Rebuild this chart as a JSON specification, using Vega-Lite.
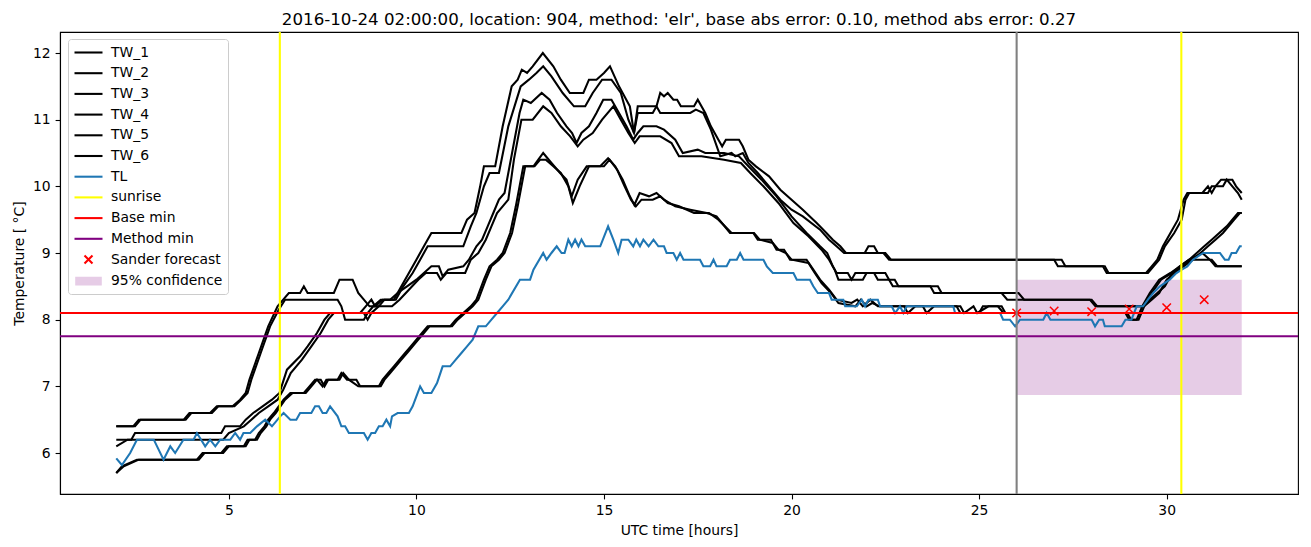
{
"$schema": "https://vega.github.io/schema/vega-lite/v6.json",
"width": 1238, "height": 462,
"autosize": {"type": "none"},
"padding": {"left": 60, "top": 32, "right": 13, "bottom": 53},
"background": "white",
"title": {"text": "2016-10-24 02:00:00, location: 904, method: 'elr', base abs error: 0.10, method abs error: 0.27", "font": "DejaVu Sans", "fontSize": 16.67, "fontWeight": "normal", "color": "black", "anchor": "middle", "frame": "group", "baseline": "bottom", "offset": 4, "dy": 18.5},
"config": {
  "font": "DejaVu Sans",
  "view": {"stroke": "black", "strokeWidth": 1.1},
  "axis": {"grid": false, "domainColor": "black", "domainWidth": 1.1, "tickColor": "black", "tickWidth": 1.1, "tickSize": 4.9, "labelFont": "DejaVu Sans", "labelFontSize": 13.9, "labelColor": "black", "labelPadding": 4.9, "titleFont": "DejaVu Sans", "titleFontSize": 13.9, "titleFontWeight": "normal", "titleColor": "black"},
  "legend": {"orient": "none", "legendX": 8, "legendY": 7, "fillColor": "white", "strokeColor": "#cccccc", "cornerRadius": 3, "padding": 5, "labelFont": "DejaVu Sans", "labelFontSize": 13.9, "labelColor": "black", "labelBaseline": "middle", "symbolSize": 196, "symbolOffset": 7, "labelOffset": 14, "rowPadding": 4.7, "symbolStrokeWidth": 2.08, "symbolOpacity": 1}
},
"datasets": {
"lines": [
{"series":"TW_1","t":2.0,"v":6.4},{"series":"TW_1","t":2.45,"v":6.4},{"series":"TW_1","t":2.6,"v":6.5},{"series":"TW_1","t":3.8,"v":6.5},{"series":"TW_1","t":3.95,"v":6.6},{"series":"TW_1","t":4.5,"v":6.6},{"series":"TW_1","t":4.68,"v":6.7},{"series":"TW_1","t":5.1,"v":6.7},{"series":"TW_1","t":5.3,"v":6.8},{"series":"TW_1","t":5.45,"v":6.9},{"series":"TW_1","t":5.55,"v":7.1},{"series":"TW_1","t":5.8,"v":7.5},{"series":"TW_1","t":6.05,"v":7.9},{"series":"TW_1","t":6.3,"v":8.2},{"series":"TW_1","t":6.45,"v":8.3},{"series":"TW_1","t":6.6,"v":8.4},{"series":"TW_1","t":6.9,"v":8.4},{"series":"TW_1","t":7.0,"v":8.5},{"series":"TW_1","t":7.1,"v":8.4},{"series":"TW_1","t":7.8,"v":8.4},{"series":"TW_1","t":7.95,"v":8.6},{"series":"TW_1","t":8.3,"v":8.6},{"series":"TW_1","t":8.45,"v":8.4},{"series":"TW_1","t":8.6,"v":8.3},{"series":"TW_1","t":8.75,"v":8.2},{"series":"TW_1","t":9.0,"v":8.2},{"series":"TW_1","t":9.15,"v":8.3},{"series":"TW_1","t":9.4,"v":8.3},{"series":"TW_1","t":9.6,"v":8.5},{"series":"TW_1","t":9.8,"v":8.7},{"series":"TW_1","t":10.0,"v":8.9},{"series":"TW_1","t":10.2,"v":9.1},{"series":"TW_1","t":10.4,"v":9.3},{"series":"TW_1","t":11.2,"v":9.3},{"series":"TW_1","t":11.35,"v":9.5},{"series":"TW_1","t":11.55,"v":9.6},{"series":"TW_1","t":11.7,"v":10.0},{"series":"TW_1","t":11.8,"v":10.3},{"series":"TW_1","t":12.1,"v":10.3},{"series":"TW_1","t":12.3,"v":10.9},{"series":"TW_1","t":12.54,"v":11.5},{"series":"TW_1","t":12.7,"v":11.6},{"series":"TW_1","t":12.81,"v":11.75},{"series":"TW_1","t":12.95,"v":11.7},{"series":"TW_1","t":13.1,"v":11.8},{"series":"TW_1","t":13.37,"v":12.0},{"series":"TW_1","t":13.65,"v":11.8},{"series":"TW_1","t":13.85,"v":11.6},{"series":"TW_1","t":14.09,"v":11.4},{"series":"TW_1","t":14.45,"v":11.4},{"series":"TW_1","t":14.6,"v":11.6},{"series":"TW_1","t":14.8,"v":11.6},{"series":"TW_1","t":15.0,"v":11.7},{"series":"TW_1","t":15.16,"v":11.8},{"series":"TW_1","t":15.4,"v":11.5},{"series":"TW_1","t":15.69,"v":11.2},{"series":"TW_1","t":15.8,"v":10.8},{"series":"TW_1","t":15.9,"v":11.2},{"series":"TW_1","t":16.4,"v":11.2},{"series":"TW_1","t":16.5,"v":11.4},{"series":"TW_1","t":16.6,"v":11.35},{"series":"TW_1","t":16.7,"v":11.4},{"series":"TW_1","t":16.85,"v":11.3},{"series":"TW_1","t":16.95,"v":11.3},{"series":"TW_1","t":17.05,"v":11.2},{"series":"TW_1","t":17.4,"v":11.2},{"series":"TW_1","t":17.5,"v":11.3},{"series":"TW_1","t":17.7,"v":11.1},{"series":"TW_1","t":17.85,"v":10.9},{"series":"TW_1","t":18.05,"v":10.7},{"series":"TW_1","t":18.15,"v":10.6},{"series":"TW_1","t":18.25,"v":10.7},{"series":"TW_1","t":18.6,"v":10.7},{"series":"TW_1","t":18.7,"v":10.6},{"series":"TW_1","t":18.85,"v":10.4},{"series":"TW_1","t":19.05,"v":10.3},{"series":"TW_1","t":19.4,"v":10.15},{"series":"TW_1","t":19.7,"v":9.95},{"series":"TW_1","t":20.0,"v":9.8},{"series":"TW_1","t":20.3,"v":9.65},{"series":"TW_1","t":20.67,"v":9.45},{"series":"TW_1","t":20.93,"v":9.3},{"series":"TW_1","t":21.1,"v":9.2},{"series":"TW_1","t":21.3,"v":9.1},{"series":"TW_1","t":21.45,"v":9.0},{"series":"TW_1","t":21.95,"v":9.0},{"series":"TW_1","t":22.05,"v":9.1},{"series":"TW_1","t":22.2,"v":9.1},{"series":"TW_1","t":22.3,"v":9.0},{"series":"TW_1","t":22.5,"v":9.0},{"series":"TW_1","t":22.65,"v":8.9},{"series":"TW_1","t":27.0,"v":8.9},{"series":"TW_1","t":27.1,"v":8.8},{"series":"TW_1","t":28.3,"v":8.8},{"series":"TW_1","t":28.4,"v":8.7},{"series":"TW_1","t":29.45,"v":8.7},{"series":"TW_1","t":29.6,"v":8.8},{"series":"TW_1","t":29.75,"v":8.9},{"series":"TW_1","t":29.9,"v":9.1},{"series":"TW_1","t":30.1,"v":9.3},{"series":"TW_1","t":30.3,"v":9.5},{"series":"TW_1","t":30.45,"v":9.8},{"series":"TW_1","t":30.55,"v":9.9},{"series":"TW_1","t":30.95,"v":9.9},{"series":"TW_1","t":31.1,"v":10.0},{"series":"TW_1","t":31.2,"v":9.9},{"series":"TW_1","t":31.3,"v":10.0},{"series":"TW_1","t":31.45,"v":10.1},{"series":"TW_1","t":31.75,"v":10.1},{"series":"TW_1","t":31.85,"v":10.0},{"series":"TW_1","t":32.0,"v":9.9},
{"series":"TW_2","t":2.0,"v":6.4},{"series":"TW_2","t":2.5,"v":6.4},{"series":"TW_2","t":2.65,"v":6.5},{"series":"TW_2","t":3.85,"v":6.5},{"series":"TW_2","t":4.0,"v":6.6},{"series":"TW_2","t":4.55,"v":6.6},{"series":"TW_2","t":4.72,"v":6.7},{"series":"TW_2","t":5.15,"v":6.7},{"series":"TW_2","t":5.33,"v":6.8},{"series":"TW_2","t":5.5,"v":6.9},{"series":"TW_2","t":5.6,"v":7.1},{"series":"TW_2","t":5.85,"v":7.5},{"series":"TW_2","t":6.1,"v":7.9},{"series":"TW_2","t":6.33,"v":8.15},{"series":"TW_2","t":6.5,"v":8.3},{"series":"TW_2","t":7.9,"v":8.3},{"series":"TW_2","t":8.0,"v":8.2},{"series":"TW_2","t":8.1,"v":8.0},{"series":"TW_2","t":8.6,"v":8.0},{"series":"TW_2","t":8.7,"v":8.1},{"series":"TW_2","t":8.85,"v":8.2},{"series":"TW_2","t":9.05,"v":8.3},{"series":"TW_2","t":9.45,"v":8.3},{"series":"TW_2","t":9.65,"v":8.5},{"series":"TW_2","t":9.9,"v":8.7},{"series":"TW_2","t":10.1,"v":8.9},{"series":"TW_2","t":10.3,"v":9.1},{"series":"TW_2","t":11.25,"v":9.1},{"series":"TW_2","t":11.45,"v":9.4},{"series":"TW_2","t":11.6,"v":9.6},{"series":"TW_2","t":11.8,"v":10.0},{"series":"TW_2","t":11.95,"v":10.2},{"series":"TW_2","t":12.2,"v":10.2},{"series":"TW_2","t":12.45,"v":10.9},{"series":"TW_2","t":12.78,"v":11.5},{"series":"TW_2","t":13.0,"v":11.6},{"series":"TW_2","t":13.2,"v":11.7},{"series":"TW_2","t":13.38,"v":11.8},{"series":"TW_2","t":13.6,"v":11.65},{"series":"TW_2","t":13.9,"v":11.4},{"series":"TW_2","t":14.2,"v":11.2},{"series":"TW_2","t":14.5,"v":11.2},{"series":"TW_2","t":14.7,"v":11.4},{"series":"TW_2","t":14.95,"v":11.6},{"series":"TW_2","t":15.2,"v":11.6},{"series":"TW_2","t":15.45,"v":11.4},{"series":"TW_2","t":15.65,"v":11.0},{"series":"TW_2","t":15.8,"v":10.8},{"series":"TW_2","t":15.9,"v":11.1},{"series":"TW_2","t":16.3,"v":11.1},{"series":"TW_2","t":16.4,"v":11.2},{"series":"TW_2","t":16.5,"v":11.1},{"series":"TW_2","t":17.3,"v":11.1},{"series":"TW_2","t":17.45,"v":11.15},{"series":"TW_2","t":17.65,"v":11.1},{"series":"TW_2","t":17.85,"v":10.85},{"series":"TW_2","t":18.1,"v":10.45},{"series":"TW_2","t":18.4,"v":10.5},{"series":"TW_2","t":18.5,"v":10.45},{"series":"TW_2","t":18.7,"v":10.5},{"series":"TW_2","t":18.85,"v":10.35},{"series":"TW_2","t":19.1,"v":10.2},{"series":"TW_2","t":19.4,"v":10.0},{"series":"TW_2","t":19.7,"v":9.8},{"series":"TW_2","t":20.0,"v":9.65},{"series":"TW_2","t":20.3,"v":9.55},{"series":"TW_2","t":20.76,"v":9.35},{"series":"TW_2","t":21.0,"v":9.2},{"series":"TW_2","t":21.2,"v":9.1},{"series":"TW_2","t":21.4,"v":9.0},{"series":"TW_2","t":22.45,"v":9.0},{"series":"TW_2","t":22.6,"v":8.9},{"series":"TW_2","t":27.2,"v":8.9},{"series":"TW_2","t":27.3,"v":8.8},{"series":"TW_2","t":28.35,"v":8.8},{"series":"TW_2","t":28.45,"v":8.7},{"series":"TW_2","t":29.5,"v":8.7},{"series":"TW_2","t":29.65,"v":8.8},{"series":"TW_2","t":29.8,"v":8.9},{"series":"TW_2","t":29.95,"v":9.1},{"series":"TW_2","t":30.2,"v":9.3},{"series":"TW_2","t":30.4,"v":9.5},{"series":"TW_2","t":30.5,"v":9.8},{"series":"TW_2","t":30.6,"v":9.9},{"series":"TW_2","t":31.1,"v":9.9},{"series":"TW_2","t":31.2,"v":10.0},{"series":"TW_2","t":31.5,"v":10.0},{"series":"TW_2","t":31.6,"v":10.1},{"series":"TW_2","t":31.75,"v":10.0},{"series":"TW_2","t":31.9,"v":9.9},{"series":"TW_2","t":32.0,"v":9.8},
{"series":"TW_3","t":2.0,"v":6.2},{"series":"TW_3","t":2.4,"v":6.2},{"series":"TW_3","t":2.5,"v":6.3},{"series":"TW_3","t":4.8,"v":6.3},{"series":"TW_3","t":4.9,"v":6.4},{"series":"TW_3","t":5.3,"v":6.4},{"series":"TW_3","t":5.45,"v":6.5},{"series":"TW_3","t":5.65,"v":6.6},{"series":"TW_3","t":5.9,"v":6.7},{"series":"TW_3","t":6.15,"v":6.8},{"series":"TW_3","t":6.35,"v":6.9},{"series":"TW_3","t":6.55,"v":7.25},{"series":"TW_3","t":6.9,"v":7.45},{"series":"TW_3","t":7.1,"v":7.6},{"series":"TW_3","t":7.35,"v":7.8},{"series":"TW_3","t":7.55,"v":8.0},{"series":"TW_3","t":7.7,"v":8.1},{"series":"TW_3","t":8.5,"v":8.1},{"series":"TW_3","t":8.65,"v":8.2},{"series":"TW_3","t":8.8,"v":8.3},{"series":"TW_3","t":8.9,"v":8.2},{"series":"TW_3","t":9.1,"v":8.3},{"series":"TW_3","t":9.3,"v":8.3},{"series":"TW_3","t":9.5,"v":8.4},{"series":"TW_3","t":9.75,"v":8.5},{"series":"TW_3","t":10.0,"v":8.6},{"series":"TW_3","t":10.2,"v":8.7},{"series":"TW_3","t":10.4,"v":8.8},{"series":"TW_3","t":10.6,"v":8.8},{"series":"TW_3","t":10.7,"v":8.65},{"series":"TW_3","t":10.85,"v":8.75},{"series":"TW_3","t":11.25,"v":8.8},{"series":"TW_3","t":11.4,"v":8.9},{"series":"TW_3","t":11.6,"v":9.1},{"series":"TW_3","t":11.75,"v":9.2},{"series":"TW_3","t":11.9,"v":9.4},{"series":"TW_3","t":12.05,"v":9.6},{"series":"TW_3","t":12.2,"v":9.8},{"series":"TW_3","t":12.35,"v":9.9},{"series":"TW_3","t":12.55,"v":10.5},{"series":"TW_3","t":12.75,"v":11.1},{"series":"TW_3","t":12.85,"v":11.3},{"series":"TW_3","t":13.05,"v":11.25},{"series":"TW_3","t":13.34,"v":11.4},{"series":"TW_3","t":13.55,"v":11.3},{"series":"TW_3","t":13.75,"v":11.1},{"series":"TW_3","t":14.0,"v":10.9},{"series":"TW_3","t":14.15,"v":10.8},{"series":"TW_3","t":14.27,"v":10.65},{"series":"TW_3","t":14.4,"v":10.8},{"series":"TW_3","t":14.6,"v":10.9},{"series":"TW_3","t":14.8,"v":11.1},{"series":"TW_3","t":14.98,"v":11.3},{"series":"TW_3","t":15.2,"v":11.3},{"series":"TW_3","t":15.4,"v":11.1},{"series":"TW_3","t":15.6,"v":10.9},{"series":"TW_3","t":15.78,"v":10.7},{"series":"TW_3","t":15.9,"v":10.8},{"series":"TW_3","t":16.05,"v":10.9},{"series":"TW_3","t":16.4,"v":10.9},{"series":"TW_3","t":16.6,"v":10.85},{"series":"TW_3","t":16.9,"v":10.7},{"series":"TW_3","t":17.1,"v":10.5},{"series":"TW_3","t":17.5,"v":10.55},{"series":"TW_3","t":17.7,"v":10.5},{"series":"TW_3","t":18.2,"v":10.5},{"series":"TW_3","t":18.6,"v":10.45},{"series":"TW_3","t":18.85,"v":10.3},{"series":"TW_3","t":19.2,"v":10.1},{"series":"TW_3","t":19.6,"v":9.85},{"series":"TW_3","t":20.0,"v":9.55},{"series":"TW_3","t":20.4,"v":9.3},{"series":"TW_3","t":20.76,"v":9.1},{"series":"TW_3","t":20.95,"v":9.0},{"series":"TW_3","t":21.1,"v":8.8},{"series":"TW_3","t":21.2,"v":8.7},{"series":"TW_3","t":21.5,"v":8.7},{"series":"TW_3","t":21.6,"v":8.6},{"series":"TW_3","t":21.7,"v":8.7},{"series":"TW_3","t":22.5,"v":8.7},{"series":"TW_3","t":22.6,"v":8.6},{"series":"TW_3","t":22.7,"v":8.5},{"series":"TW_3","t":23.7,"v":8.5},{"series":"TW_3","t":23.8,"v":8.4},{"series":"TW_3","t":25.6,"v":8.4},{"series":"TW_3","t":25.75,"v":8.3},{"series":"TW_3","t":27.95,"v":8.3},{"series":"TW_3","t":28.1,"v":8.2},{"series":"TW_3","t":29.35,"v":8.2},{"series":"TW_3","t":29.55,"v":8.3},{"series":"TW_3","t":29.75,"v":8.4},{"series":"TW_3","t":29.95,"v":8.5},{"series":"TW_3","t":30.15,"v":8.7},{"series":"TW_3","t":30.35,"v":8.8},{"series":"TW_3","t":30.6,"v":8.9},{"series":"TW_3","t":30.8,"v":9.0},{"series":"TW_3","t":31.0,"v":9.1},{"series":"TW_3","t":31.2,"v":9.2},{"series":"TW_3","t":31.4,"v":9.3},{"series":"TW_3","t":31.6,"v":9.4},{"series":"TW_3","t":31.75,"v":9.5},{"series":"TW_3","t":31.9,"v":9.6},{"series":"TW_3","t":32.0,"v":9.6},
{"series":"TW_4","t":2.0,"v":6.1},{"series":"TW_4","t":2.3,"v":6.2},{"series":"TW_4","t":4.85,"v":6.2},{"series":"TW_4","t":5.0,"v":6.3},{"series":"TW_4","t":5.4,"v":6.4},{"series":"TW_4","t":5.6,"v":6.5},{"series":"TW_4","t":5.8,"v":6.6},{"series":"TW_4","t":6.05,"v":6.7},{"series":"TW_4","t":6.3,"v":6.8},{"series":"TW_4","t":6.45,"v":6.95},{"series":"TW_4","t":6.65,"v":7.2},{"series":"TW_4","t":6.95,"v":7.4},{"series":"TW_4","t":7.2,"v":7.6},{"series":"TW_4","t":7.45,"v":7.8},{"series":"TW_4","t":7.65,"v":8.0},{"series":"TW_4","t":7.8,"v":8.1},{"series":"TW_4","t":8.6,"v":8.1},{"series":"TW_4","t":8.7,"v":8.0},{"series":"TW_4","t":8.8,"v":8.1},{"series":"TW_4","t":9.0,"v":8.2},{"series":"TW_4","t":9.35,"v":8.2},{"series":"TW_4","t":9.55,"v":8.3},{"series":"TW_4","t":9.8,"v":8.45},{"series":"TW_4","t":10.05,"v":8.6},{"series":"TW_4","t":10.25,"v":8.7},{"series":"TW_4","t":10.55,"v":8.7},{"series":"TW_4","t":10.65,"v":8.6},{"series":"TW_4","t":10.8,"v":8.7},{"series":"TW_4","t":11.3,"v":8.7},{"series":"TW_4","t":11.45,"v":8.9},{"series":"TW_4","t":11.65,"v":9.0},{"series":"TW_4","t":11.85,"v":9.2},{"series":"TW_4","t":12.0,"v":9.4},{"series":"TW_4","t":12.15,"v":9.6},{"series":"TW_4","t":12.3,"v":9.7},{"series":"TW_4","t":12.45,"v":9.8},{"series":"TW_4","t":12.6,"v":10.4},{"series":"TW_4","t":12.8,"v":11.0},{"series":"TW_4","t":13.1,"v":11.0},{"series":"TW_4","t":13.38,"v":11.2},{"series":"TW_4","t":13.6,"v":11.1},{"series":"TW_4","t":13.85,"v":10.9},{"series":"TW_4","t":14.1,"v":10.75},{"series":"TW_4","t":14.3,"v":10.6},{"series":"TW_4","t":14.45,"v":10.7},{"series":"TW_4","t":14.7,"v":10.8},{"series":"TW_4","t":14.95,"v":11.0},{"series":"TW_4","t":15.25,"v":11.2},{"series":"TW_4","t":15.45,"v":11.0},{"series":"TW_4","t":15.65,"v":10.8},{"series":"TW_4","t":15.82,"v":10.65},{"series":"TW_4","t":15.95,"v":10.75},{"series":"TW_4","t":16.5,"v":10.75},{"series":"TW_4","t":16.8,"v":10.65},{"series":"TW_4","t":17.0,"v":10.45},{"series":"TW_4","t":17.6,"v":10.45},{"series":"TW_4","t":18.2,"v":10.4},{"series":"TW_4","t":18.65,"v":10.35},{"series":"TW_4","t":18.9,"v":10.2},{"series":"TW_4","t":19.25,"v":10.0},{"series":"TW_4","t":19.65,"v":9.75},{"series":"TW_4","t":20.05,"v":9.45},{"series":"TW_4","t":20.45,"v":9.25},{"series":"TW_4","t":20.8,"v":9.05},{"series":"TW_4","t":21.0,"v":8.9},{"series":"TW_4","t":21.15,"v":8.75},{"series":"TW_4","t":21.25,"v":8.6},{"series":"TW_4","t":21.9,"v":8.6},{"series":"TW_4","t":22.0,"v":8.7},{"series":"TW_4","t":22.2,"v":8.7},{"series":"TW_4","t":22.3,"v":8.6},{"series":"TW_4","t":22.75,"v":8.6},{"series":"TW_4","t":22.85,"v":8.5},{"series":"TW_4","t":23.9,"v":8.5},{"series":"TW_4","t":24.0,"v":8.4},{"series":"TW_4","t":26.05,"v":8.4},{"series":"TW_4","t":26.2,"v":8.3},{"series":"TW_4","t":28.0,"v":8.3},{"series":"TW_4","t":28.15,"v":8.2},{"series":"TW_4","t":29.4,"v":8.2},{"series":"TW_4","t":29.6,"v":8.3},{"series":"TW_4","t":29.8,"v":8.4},{"series":"TW_4","t":30.0,"v":8.6},{"series":"TW_4","t":30.2,"v":8.7},{"series":"TW_4","t":30.45,"v":8.8},{"series":"TW_4","t":30.7,"v":8.9},{"series":"TW_4","t":30.9,"v":9.0},{"series":"TW_4","t":31.1,"v":9.1},{"series":"TW_4","t":31.3,"v":9.2},{"series":"TW_4","t":31.5,"v":9.3},{"series":"TW_4","t":31.65,"v":9.4},{"series":"TW_4","t":31.8,"v":9.5},{"series":"TW_4","t":31.95,"v":9.6},{"series":"TW_4","t":32.0,"v":9.6},
{"series":"TW_5","t":2.0,"v":5.7},{"series":"TW_5","t":2.15,"v":5.8},{"series":"TW_5","t":2.55,"v":5.9},{"series":"TW_5","t":4.15,"v":5.9},{"series":"TW_5","t":4.3,"v":6.0},{"series":"TW_5","t":4.8,"v":6.0},{"series":"TW_5","t":4.95,"v":6.1},{"series":"TW_5","t":5.4,"v":6.1},{"series":"TW_5","t":5.5,"v":6.2},{"series":"TW_5","t":5.7,"v":6.2},{"series":"TW_5","t":5.8,"v":6.3},{"series":"TW_5","t":5.95,"v":6.4},{"series":"TW_5","t":6.05,"v":6.5},{"series":"TW_5","t":6.2,"v":6.6},{"series":"TW_5","t":6.46,"v":6.8},{"series":"TW_5","t":6.64,"v":6.9},{"series":"TW_5","t":7.0,"v":6.9},{"series":"TW_5","t":7.15,"v":7.0},{"series":"TW_5","t":7.3,"v":7.1},{"series":"TW_5","t":7.45,"v":7.1},{"series":"TW_5","t":7.55,"v":7.0},{"series":"TW_5","t":7.65,"v":7.1},{"series":"TW_5","t":7.9,"v":7.1},{"series":"TW_5","t":8.0,"v":7.2},{"series":"TW_5","t":8.15,"v":7.1},{"series":"TW_5","t":8.4,"v":7.1},{"series":"TW_5","t":8.5,"v":7.0},{"series":"TW_5","t":9.0,"v":7.0},{"series":"TW_5","t":9.1,"v":7.1},{"series":"TW_5","t":9.25,"v":7.2},{"series":"TW_5","t":9.4,"v":7.3},{"series":"TW_5","t":9.55,"v":7.4},{"series":"TW_5","t":9.7,"v":7.5},{"series":"TW_5","t":9.85,"v":7.6},{"series":"TW_5","t":10.0,"v":7.7},{"series":"TW_5","t":10.15,"v":7.8},{"series":"TW_5","t":10.3,"v":7.9},{"series":"TW_5","t":10.9,"v":7.9},{"series":"TW_5","t":11.05,"v":8.0},{"series":"TW_5","t":11.25,"v":8.1},{"series":"TW_5","t":11.45,"v":8.2},{"series":"TW_5","t":11.6,"v":8.3},{"series":"TW_5","t":11.8,"v":8.6},{"series":"TW_5","t":11.95,"v":8.8},{"series":"TW_5","t":12.15,"v":8.9},{"series":"TW_5","t":12.3,"v":9.0},{"series":"TW_5","t":12.5,"v":9.3},{"series":"TW_5","t":12.65,"v":9.7},{"series":"TW_5","t":12.85,"v":10.3},{"series":"TW_5","t":13.12,"v":10.3},{"series":"TW_5","t":13.25,"v":10.4},{"series":"TW_5","t":13.38,"v":10.5},{"series":"TW_5","t":13.6,"v":10.35},{"series":"TW_5","t":13.83,"v":10.2},{"series":"TW_5","t":14.0,"v":10.1},{"series":"TW_5","t":14.14,"v":9.85},{"series":"TW_5","t":14.3,"v":10.1},{"series":"TW_5","t":14.54,"v":10.3},{"series":"TW_5","t":14.9,"v":10.3},{"series":"TW_5","t":15.11,"v":10.42},{"series":"TW_5","t":15.3,"v":10.3},{"series":"TW_5","t":15.5,"v":10.1},{"series":"TW_5","t":15.69,"v":9.85},{"series":"TW_5","t":15.81,"v":9.72},{"series":"TW_5","t":15.95,"v":9.9},{"series":"TW_5","t":16.2,"v":9.85},{"series":"TW_5","t":16.4,"v":9.9},{"series":"TW_5","t":16.6,"v":9.8},{"series":"TW_5","t":16.9,"v":9.7},{"series":"TW_5","t":17.3,"v":9.65},{"series":"TW_5","t":17.74,"v":9.6},{"series":"TW_5","t":18.0,"v":9.55},{"series":"TW_5","t":18.36,"v":9.3},{"series":"TW_5","t":18.98,"v":9.3},{"series":"TW_5","t":19.1,"v":9.2},{"series":"TW_5","t":19.45,"v":9.2},{"series":"TW_5","t":19.6,"v":9.05},{"series":"TW_5","t":19.8,"v":9.05},{"series":"TW_5","t":19.96,"v":8.9},{"series":"TW_5","t":20.4,"v":8.9},{"series":"TW_5","t":20.58,"v":8.75},{"series":"TW_5","t":20.76,"v":8.6},{"series":"TW_5","t":21.0,"v":8.45},{"series":"TW_5","t":21.2,"v":8.3},{"series":"TW_5","t":21.6,"v":8.25},{"series":"TW_5","t":21.75,"v":8.3},{"series":"TW_5","t":21.9,"v":8.2},{"series":"TW_5","t":22.1,"v":8.3},{"series":"TW_5","t":22.3,"v":8.2},{"series":"TW_5","t":23.0,"v":8.2},{"series":"TW_5","t":23.1,"v":8.1},{"series":"TW_5","t":23.3,"v":8.2},{"series":"TW_5","t":24.5,"v":8.2},{"series":"TW_5","t":24.6,"v":8.1},{"series":"TW_5","t":24.85,"v":8.2},{"series":"TW_5","t":24.95,"v":8.1},{"series":"TW_5","t":25.25,"v":8.2},{"series":"TW_5","t":25.6,"v":8.2},{"series":"TW_5","t":25.7,"v":8.1},{"series":"TW_5","t":28.9,"v":8.1},{"series":"TW_5","t":29.0,"v":8.0},{"series":"TW_5","t":29.2,"v":8.0},{"series":"TW_5","t":29.35,"v":8.2},{"series":"TW_5","t":29.55,"v":8.4},{"series":"TW_5","t":29.8,"v":8.6},{"series":"TW_5","t":30.1,"v":8.7},{"series":"TW_5","t":30.35,"v":8.8},{"series":"TW_5","t":30.6,"v":8.9},{"series":"TW_5","t":30.95,"v":9.0},{"series":"TW_5","t":31.15,"v":8.9},{"series":"TW_5","t":31.3,"v":8.8},{"series":"TW_5","t":32.0,"v":8.8},
{"series":"TW_6","t":2.0,"v":5.7},{"series":"TW_6","t":2.2,"v":5.8},{"series":"TW_6","t":2.6,"v":5.9},{"series":"TW_6","t":4.2,"v":5.9},{"series":"TW_6","t":4.35,"v":6.0},{"series":"TW_6","t":4.85,"v":6.0},{"series":"TW_6","t":5.0,"v":6.1},{"series":"TW_6","t":5.45,"v":6.1},{"series":"TW_6","t":5.55,"v":6.2},{"series":"TW_6","t":5.75,"v":6.2},{"series":"TW_6","t":5.85,"v":6.3},{"series":"TW_6","t":6.0,"v":6.4},{"series":"TW_6","t":6.1,"v":6.5},{"series":"TW_6","t":6.25,"v":6.6},{"series":"TW_6","t":6.5,"v":6.8},{"series":"TW_6","t":6.7,"v":6.9},{"series":"TW_6","t":7.05,"v":6.9},{"series":"TW_6","t":7.2,"v":7.0},{"series":"TW_6","t":7.35,"v":7.1},{"series":"TW_6","t":7.5,"v":7.0},{"series":"TW_6","t":7.6,"v":7.1},{"series":"TW_6","t":7.95,"v":7.1},{"series":"TW_6","t":8.05,"v":7.2},{"series":"TW_6","t":8.2,"v":7.1},{"series":"TW_6","t":8.45,"v":7.0},{"series":"TW_6","t":9.05,"v":7.0},{"series":"TW_6","t":9.15,"v":7.1},{"series":"TW_6","t":9.3,"v":7.2},{"series":"TW_6","t":9.45,"v":7.3},{"series":"TW_6","t":9.6,"v":7.4},{"series":"TW_6","t":9.75,"v":7.5},{"series":"TW_6","t":9.9,"v":7.6},{"series":"TW_6","t":10.05,"v":7.7},{"series":"TW_6","t":10.2,"v":7.8},{"series":"TW_6","t":10.35,"v":7.9},{"series":"TW_6","t":10.95,"v":7.9},{"series":"TW_6","t":11.1,"v":8.0},{"series":"TW_6","t":11.3,"v":8.1},{"series":"TW_6","t":11.5,"v":8.2},{"series":"TW_6","t":11.65,"v":8.3},{"series":"TW_6","t":11.85,"v":8.6},{"series":"TW_6","t":12.0,"v":8.8},{"series":"TW_6","t":12.2,"v":8.9},{"series":"TW_6","t":12.35,"v":9.0},{"series":"TW_6","t":12.55,"v":9.3},{"series":"TW_6","t":12.7,"v":9.7},{"series":"TW_6","t":12.9,"v":10.3},{"series":"TW_6","t":13.15,"v":10.3},{"series":"TW_6","t":13.3,"v":10.4},{"series":"TW_6","t":13.45,"v":10.4},{"series":"TW_6","t":13.65,"v":10.3},{"series":"TW_6","t":13.85,"v":10.2},{"series":"TW_6","t":14.05,"v":10.0},{"series":"TW_6","t":14.17,"v":9.75},{"series":"TW_6","t":14.35,"v":10.0},{"series":"TW_6","t":14.6,"v":10.3},{"series":"TW_6","t":15.0,"v":10.3},{"series":"TW_6","t":15.15,"v":10.4},{"series":"TW_6","t":15.35,"v":10.25},{"series":"TW_6","t":15.55,"v":10.0},{"series":"TW_6","t":15.72,"v":9.8},{"series":"TW_6","t":15.85,"v":9.7},{"series":"TW_6","t":16.0,"v":9.8},{"series":"TW_6","t":16.3,"v":9.8},{"series":"TW_6","t":16.5,"v":9.85},{"series":"TW_6","t":16.7,"v":9.75},{"series":"TW_6","t":17.0,"v":9.7},{"series":"TW_6","t":17.4,"v":9.6},{"series":"TW_6","t":17.8,"v":9.6},{"series":"TW_6","t":18.05,"v":9.5},{"series":"TW_6","t":18.4,"v":9.3},{"series":"TW_6","t":19.0,"v":9.3},{"series":"TW_6","t":19.15,"v":9.2},{"series":"TW_6","t":19.5,"v":9.15},{"series":"TW_6","t":19.65,"v":9.05},{"series":"TW_6","t":19.85,"v":9.0},{"series":"TW_6","t":20.0,"v":8.9},{"series":"TW_6","t":20.45,"v":8.85},{"series":"TW_6","t":20.62,"v":8.7},{"series":"TW_6","t":20.8,"v":8.55},{"series":"TW_6","t":21.05,"v":8.4},{"series":"TW_6","t":21.25,"v":8.25},{"series":"TW_6","t":21.7,"v":8.2},{"series":"TW_6","t":21.85,"v":8.3},{"series":"TW_6","t":22.0,"v":8.2},{"series":"TW_6","t":22.15,"v":8.25},{"series":"TW_6","t":22.35,"v":8.2},{"series":"TW_6","t":23.5,"v":8.2},{"series":"TW_6","t":23.6,"v":8.1},{"series":"TW_6","t":23.8,"v":8.2},{"series":"TW_6","t":24.4,"v":8.2},{"series":"TW_6","t":24.5,"v":8.1},{"series":"TW_6","t":25.0,"v":8.1},{"series":"TW_6","t":25.1,"v":8.2},{"series":"TW_6","t":25.5,"v":8.2},{"series":"TW_6","t":25.65,"v":8.1},{"series":"TW_6","t":28.95,"v":8.1},{"series":"TW_6","t":29.05,"v":8.0},{"series":"TW_6","t":29.25,"v":8.0},{"series":"TW_6","t":29.4,"v":8.2},{"series":"TW_6","t":29.6,"v":8.4},{"series":"TW_6","t":29.85,"v":8.6},{"series":"TW_6","t":30.15,"v":8.7},{"series":"TW_6","t":30.4,"v":8.8},{"series":"TW_6","t":30.65,"v":8.9},{"series":"TW_6","t":31.2,"v":8.9},{"series":"TW_6","t":31.35,"v":8.8},{"series":"TW_6","t":32.0,"v":8.8},
{"series":"TL","t":2.0,"v":5.92},{"series":"TL","t":2.15,"v":5.82},{"series":"TL","t":2.37,"v":6.0},{"series":"TL","t":2.55,"v":6.2},{"series":"TL","t":3.0,"v":6.2},{"series":"TL","t":3.26,"v":5.9},{"series":"TL","t":3.44,"v":6.1},{"series":"TL","t":3.57,"v":6.0},{"series":"TL","t":3.79,"v":6.2},{"series":"TL","t":4.06,"v":6.2},{"series":"TL","t":4.15,"v":6.3},{"series":"TL","t":4.37,"v":6.1},{"series":"TL","t":4.5,"v":6.2},{"series":"TL","t":4.64,"v":6.1},{"series":"TL","t":4.77,"v":6.2},{"series":"TL","t":5.04,"v":6.2},{"series":"TL","t":5.17,"v":6.3},{"series":"TL","t":5.3,"v":6.2},{"series":"TL","t":5.39,"v":6.3},{"series":"TL","t":5.57,"v":6.3},{"series":"TL","t":5.75,"v":6.4},{"series":"TL","t":5.97,"v":6.5},{"series":"TL","t":6.15,"v":6.4},{"series":"TL","t":6.37,"v":6.55},{"series":"TL","t":6.46,"v":6.6},{"series":"TL","t":6.64,"v":6.5},{"series":"TL","t":6.8,"v":6.5},{"series":"TL","t":6.9,"v":6.6},{"series":"TL","t":7.2,"v":6.6},{"series":"TL","t":7.3,"v":6.7},{"series":"TL","t":7.4,"v":6.7},{"series":"TL","t":7.5,"v":6.6},{"series":"TL","t":7.6,"v":6.6},{"series":"TL","t":7.7,"v":6.7},{"series":"TL","t":7.9,"v":6.55},{"series":"TL","t":8.0,"v":6.4},{"series":"TL","t":8.1,"v":6.4},{"series":"TL","t":8.2,"v":6.3},{"series":"TL","t":8.6,"v":6.3},{"series":"TL","t":8.7,"v":6.2},{"series":"TL","t":8.8,"v":6.3},{"series":"TL","t":8.9,"v":6.3},{"series":"TL","t":9.0,"v":6.4},{"series":"TL","t":9.1,"v":6.4},{"series":"TL","t":9.2,"v":6.5},{"series":"TL","t":9.3,"v":6.4},{"series":"TL","t":9.35,"v":6.55},{"series":"TL","t":9.5,"v":6.6},{"series":"TL","t":9.8,"v":6.6},{"series":"TL","t":9.9,"v":6.7},{"series":"TL","t":10.1,"v":7.0},{"series":"TL","t":10.2,"v":6.9},{"series":"TL","t":10.4,"v":6.9},{"series":"TL","t":10.55,"v":7.05},{"series":"TL","t":10.7,"v":7.3},{"series":"TL","t":10.9,"v":7.3},{"series":"TL","t":11.05,"v":7.4},{"series":"TL","t":11.2,"v":7.5},{"series":"TL","t":11.35,"v":7.6},{"series":"TL","t":11.5,"v":7.7},{"series":"TL","t":11.65,"v":7.9},{"series":"TL","t":11.85,"v":7.9},{"series":"TL","t":12.0,"v":8.0},{"series":"TL","t":12.15,"v":8.1},{"series":"TL","t":12.3,"v":8.2},{"series":"TL","t":12.45,"v":8.3},{"series":"TL","t":12.76,"v":8.6},{"series":"TL","t":13.03,"v":8.6},{"series":"TL","t":13.12,"v":8.75},{"series":"TL","t":13.38,"v":9.0},{"series":"TL","t":13.47,"v":8.9},{"series":"TL","t":13.6,"v":9.0},{"series":"TL","t":13.74,"v":9.1},{"series":"TL","t":13.87,"v":9.0},{"series":"TL","t":13.95,"v":9.0},{"series":"TL","t":14.05,"v":9.2},{"series":"TL","t":14.14,"v":9.1},{"series":"TL","t":14.23,"v":9.2},{"series":"TL","t":14.32,"v":9.1},{"series":"TL","t":14.4,"v":9.2},{"series":"TL","t":14.5,"v":9.1},{"series":"TL","t":14.9,"v":9.1},{"series":"TL","t":15.11,"v":9.4},{"series":"TL","t":15.25,"v":9.2},{"series":"TL","t":15.38,"v":9.0},{"series":"TL","t":15.47,"v":9.2},{"series":"TL","t":15.65,"v":9.2},{"series":"TL","t":15.78,"v":9.1},{"series":"TL","t":15.86,"v":9.2},{"series":"TL","t":15.96,"v":9.1},{"series":"TL","t":16.05,"v":9.2},{"series":"TL","t":16.19,"v":9.1},{"series":"TL","t":16.32,"v":9.2},{"series":"TL","t":16.45,"v":9.1},{"series":"TL","t":16.6,"v":9.1},{"series":"TL","t":16.67,"v":9.0},{"series":"TL","t":16.85,"v":9.0},{"series":"TL","t":16.94,"v":8.9},{"series":"TL","t":17.03,"v":9.0},{"series":"TL","t":17.12,"v":8.9},{"series":"TL","t":17.56,"v":8.9},{"series":"TL","t":17.65,"v":8.8},{"series":"TL","t":17.83,"v":8.8},{"series":"TL","t":17.92,"v":8.9},{"series":"TL","t":18.0,"v":8.8},{"series":"TL","t":18.27,"v":8.8},{"series":"TL","t":18.36,"v":8.9},{"series":"TL","t":18.54,"v":8.9},{"series":"TL","t":18.63,"v":9.0},{"series":"TL","t":18.72,"v":8.9},{"series":"TL","t":19.25,"v":8.9},{"series":"TL","t":19.34,"v":8.8},{"series":"TL","t":19.5,"v":8.7},{"series":"TL","t":20.05,"v":8.7},{"series":"TL","t":20.14,"v":8.6},{"series":"TL","t":20.49,"v":8.6},{"series":"TL","t":20.58,"v":8.5},{"series":"TL","t":20.7,"v":8.4},{"series":"TL","t":21.0,"v":8.4},{"series":"TL","t":21.07,"v":8.3},{"series":"TL","t":21.38,"v":8.3},{"series":"TL","t":21.43,"v":8.2},{"series":"TL","t":21.74,"v":8.2},{"series":"TL","t":21.87,"v":8.3},{"series":"TL","t":21.96,"v":8.2},{"series":"TL","t":22.05,"v":8.3},{"series":"TL","t":22.3,"v":8.3},{"series":"TL","t":22.36,"v":8.2},{"series":"TL","t":22.67,"v":8.2},{"series":"TL","t":22.76,"v":8.1},{"series":"TL","t":22.89,"v":8.2},{"series":"TL","t":22.98,"v":8.1},{"series":"TL","t":23.07,"v":8.2},{"series":"TL","t":24.31,"v":8.2},{"series":"TL","t":24.36,"v":8.1},{"series":"TL","t":25.56,"v":8.1},{"series":"TL","t":25.64,"v":8.0},{"series":"TL","t":25.82,"v":8.0},{"series":"TL","t":25.96,"v":7.9},{"series":"TL","t":26.09,"v":8.0},{"series":"TL","t":26.71,"v":8.0},{"series":"TL","t":26.8,"v":8.1},{"series":"TL","t":26.9,"v":8.0},{"series":"TL","t":28.0,"v":8.0},{"series":"TL","t":28.09,"v":7.9},{"series":"TL","t":28.2,"v":8.0},{"series":"TL","t":28.3,"v":8.0},{"series":"TL","t":28.35,"v":7.9},{"series":"TL","t":28.8,"v":7.9},{"series":"TL","t":28.9,"v":8.0},{"series":"TL","t":29.06,"v":8.0},{"series":"TL","t":29.2,"v":8.2},{"series":"TL","t":29.37,"v":8.2},{"series":"TL","t":29.5,"v":8.3},{"series":"TL","t":29.64,"v":8.4},{"series":"TL","t":29.82,"v":8.5},{"series":"TL","t":30.08,"v":8.6},{"series":"TL","t":30.26,"v":8.7},{"series":"TL","t":30.4,"v":8.75},{"series":"TL","t":30.55,"v":8.8},{"series":"TL","t":30.7,"v":8.9},{"series":"TL","t":30.97,"v":9.0},{"series":"TL","t":31.42,"v":9.0},{"series":"TL","t":31.55,"v":8.9},{"series":"TL","t":31.65,"v":8.9},{"series":"TL","t":31.73,"v":9.0},{"series":"TL","t":31.85,"v":9.0},{"series":"TL","t":31.95,"v":9.1},{"series":"TL","t":32.0,"v":9.1}
],
"band": [{"series":"95% confidence","t0":26,"t1":32,"lo":6.87,"hi":8.6}],
"sunrise": [{"series":"sunrise","t":6.36},{"series":"sunrise","t":30.39}],
"now": [{"t":26}],
"mins": [{"series":"Base min","v":8.1},{"series":"Method min","v":7.75}],
"forecast": [{"series":"Sander forecast","t":26,"v":8.1},{"series":"Sander forecast","t":27,"v":8.13},{"series":"Sander forecast","t":28,"v":8.12},{"series":"Sander forecast","t":29,"v":8.16},{"series":"Sander forecast","t":30,"v":8.18},{"series":"Sander forecast","t":31,"v":8.3}]
},
"layer": [
{
  "data": {"name": "band"},
  "mark": {"type": "rect", "color": "#e6cce6", "opacity": 1},
  "encoding": {
    "x": {"field": "t0", "type": "quantitative", "scale": {"domain": [0.5, 33.5], "nice": false, "zero": false}, "axis": {"values": [5,10,15,20,25,30], "format": "d", "title": "UTC time [hours]", "titlePadding": 6}},
    "x2": {"field": "t1"},
    "y": {"field": "lo", "type": "quantitative", "scale": {"domain": [5.385, 12.315], "nice": false, "zero": false}, "axis": {"values": [6,7,8,9,10,11,12], "format": "d", "title": "Temperature [ °C]", "titlePadding": 6}},
    "y2": {"field": "hi"}
  }
},
{
  "data": {"name": "lines"},
  "mark": {"type": "line", "strokeWidth": 2.08},
  "encoding": {
    "x": {"field": "t", "type": "quantitative"},
    "y": {"field": "v", "type": "quantitative"},
    "color": {"field": "series", "type": "nominal",
      "scale": {"domain": ["TW_1","TW_2","TW_3","TW_4","TW_5","TW_6","TL","sunrise","Base min","Method min","Sander forecast","95% confidence"],
                "range": ["black","black","black","black","black","black","#1f77b4","#ffff00","#ff0000","#800080","#ff0000","#e6cce6"]},
      "legend": {"title": null}
    }
  }
},
{
  "data": {"name": "sunrise"},
  "mark": {"type": "rule", "strokeWidth": 2.08},
  "encoding": {
    "x": {"field": "t", "type": "quantitative"},
    "color": {"field": "series", "type": "nominal", "legend": {"title": null}}
  }
},
{
  "data": {"name": "mins"},
  "mark": {"type": "rule", "strokeWidth": 2.08},
  "encoding": {
    "y": {"field": "v", "type": "quantitative"},
    "color": {"field": "series", "type": "nominal", "legend": {"title": null}}
  }
},
{
  "data": {"name": "forecast"},
  "mark": {"type": "point", "size": 219, "filled": false, "strokeWidth": 1.5, "opacity": 1},
  "encoding": {
    "x": {"field": "t", "type": "quantitative"},
    "y": {"field": "v", "type": "quantitative"},
    "color": {"field": "series", "type": "nominal", "legend": {"title": null}},
    "shape": {"field": "series", "type": "nominal",
      "scale": {"domain": ["TW_1","TW_2","TW_3","TW_4","TW_5","TW_6","TL","sunrise","Base min","Method min","Sander forecast","95% confidence"],
                "range": ["M-2,0L2,0","M-2,0L2,0","M-2,0L2,0","M-2,0L2,0","M-2,0L2,0","M-2,0L2,0","M-2,0L2,0","M-2,0L2,0","M-2,0L2,0","M-2,0L2,0","M-0.57,-0.57L0.57,0.57M-0.57,0.57L0.57,-0.57","M-1.9,-0.48L1.9,-0.48M-1.9,-0.36L1.9,-0.36M-1.9,-0.24L1.9,-0.24M-1.9,-0.12L1.9,-0.12M-1.9,0L1.9,0M-1.9,0.12L1.9,0.12M-1.9,0.24L1.9,0.24M-1.9,0.36L1.9,0.36M-1.9,0.48L1.9,0.48"]},
      "legend": {"title": null}
    }
  }
},
{
  "data": {"name": "now"},
  "mark": {"type": "rule", "strokeWidth": 2.08, "color": "#808080"},
  "encoding": {
    "x": {"field": "t", "type": "quantitative"}
  }
}
]
}
